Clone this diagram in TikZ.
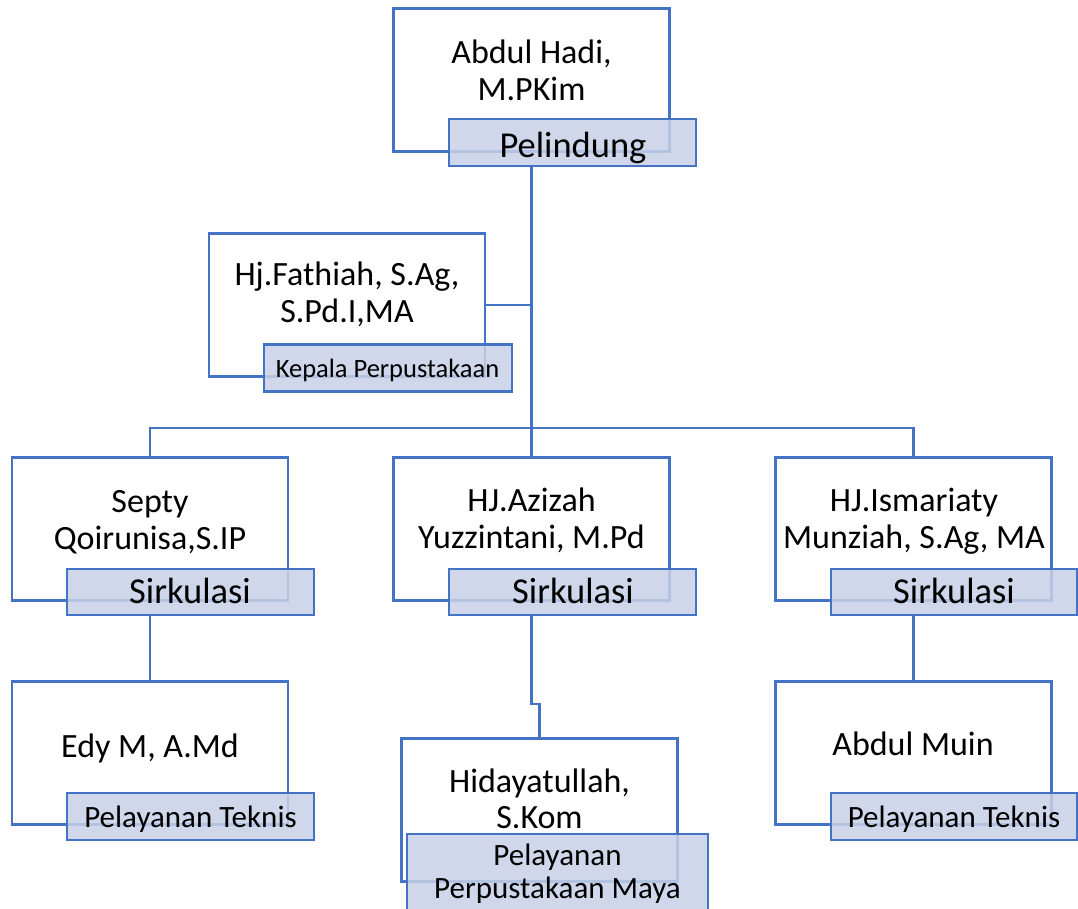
\documentclass[tikz,border=0pt]{standalone}
\usepackage{fontspec}
\setmainfont{Carlito}
\definecolor{ln}{HTML}{4472C4}
\definecolor{lf}{RGB}{200,209,232}
\tikzset{
  conn/.style={draw=ln, line width=2.6pt},
  box/.style={draw=ln, line width=2.6pt, fill=white, inner sep=0pt,
    minimum width=276pt, minimum height=143pt},
  lab/.style={draw=ln, line width=2.6pt, fill=lf, fill opacity=0.85, draw opacity=1,
    inner sep=0pt, minimum width=247pt, minimum height=47pt},
  nametxt/.style={anchor=base, inner sep=0pt, font=\fontsize{34}{37}\selectfont},
  bigtxt/.style={anchor=base, inner sep=0pt, font=\fontsize{36.5}{40}\selectfont},
  midtxt/.style={anchor=base, inner sep=0pt, font=\fontsize{31}{33}\selectfont},
  smalltxt/.style={anchor=base, inner sep=0pt, font=\fontsize{26.5}{30}\selectfont},
}
\begin{document}
\begin{tikzpicture}[x=1pt,y=-1pt]
\clip (0,0) rectangle (1078,908);
\fill[white] (0,0) rectangle (1078,908);

% connectors (drawn first, boxes cover their ends)
\coordinate (bus) at (531.5,428);
\coordinate (k) at (539.5,704);
\coordinate (c0) at (531.5,166);
\coordinate (c1) at (485,305);
\coordinate (c2) at (531.5,305);
\coordinate (c3) at (150,615);
\coordinate (c4) at (913.5,615);
\coordinate (c5) at (531.5,615);

% boxes
\node[box] (b0) at (531.5,80) {};
\node[box] (b1) at (347,305) {};
\node[box] (b2) at (150,529) {};
\node[box] (b3) at (531.5,529) {};
\node[box] (b4) at (913.5,529) {};
\node[box] (b5) at (150,753) {};
\node[box] (b6) at (913.5,753) {};
\node[box] (b7) at (539.5,810) {};

% label boxes
\node[lab] (l0) at (572.5,142.5) {};
\node[lab, minimum width=248pt] (l1) at (388,368) {};
\node[lab, minimum height=46pt] (l2) at (190.5,592) {};
\node[lab, minimum height=46pt] (l3) at (572.5,592) {};
\node[lab, minimum height=46pt, minimum width=246pt] (l4) at (954,592) {};
\node[lab] (l5) at (190.5,816.5) {};
\node[lab, minimum width=246pt] (l6) at (954,816.5) {};
\node[lab, minimum width=301pt, minimum height=82pt] (l7) at (557.5,875) {};

\draw[conn] (l0.south -| b0) -- (bus);
\draw[conn] (b1.east) -- (b1.east -| b0);
\draw[conn] (b2.north) |- (bus) -| (b4.north);
\draw[conn] (bus) -- (b3.north);
\draw[conn] (l2.south -| b2) -- (b5.north);
\draw[conn] (l4.south -| b4) -- (b6.north);
\draw[conn] (l3.south -| b3) |- (k) -- (b7.north);

% texts
\node[nametxt] (t0) at (531.5,63) {\begin{tabular}[t]{@{}c@{}}Abdul Hadi,\\M.PKim\end{tabular}};
\node[nametxt] (t1) at (347,285) {\begin{tabular}[t]{@{}c@{}}Hj.Fathiah, S.Ag,\\S.Pd.I,MA\end{tabular}};
\node[nametxt] (t2) at (150,512) {\begin{tabular}[t]{@{}c@{}}Septy\\Qoirunisa,S.IP\end{tabular}};
\node[nametxt] (t3) at (531.5,511) {\begin{tabular}[t]{@{}c@{}}HJ.Azizah\\Yuzzintani, M.Pd\end{tabular}};
\node[nametxt] (t4) at (914,511) {\begin{tabular}[t]{@{}c@{}}HJ.Ismariaty\\Munziah, S.Ag, MA\end{tabular}};
\node[nametxt] (t5) at (150,757) {Edy M, A.Md};
\node[nametxt] (t6) at (913,755) {Abdul Muin};
\node[nametxt, font=\fontsize{34}{36}\selectfont] (t7) at (539.5,792) {\begin{tabular}[t]{@{}c@{}}Hidayatullah,\\S.Kom\end{tabular}};

\node[bigtxt] (r0) at (573,157) {Pelindung};
\node[smalltxt] (r1) at (387.5,377) {Kepala Perpustakaan};
\node[bigtxt] (r2) at (190,603) {Sirkulasi};
\node[bigtxt] (r3) at (573,603) {Sirkulasi};
\node[bigtxt] (r4) at (954,603) {Sirkulasi};
\node[midtxt] (r5) at (190.5,827) {Pelayanan Teknis};
\node[midtxt] (r6) at (954,827) {Pelayanan Teknis};
\node[midtxt] (r7) at (557.5,865) {\begin{tabular}[t]{@{}c@{}}Pelayanan\\Perpustakaan Maya\end{tabular}};
\end{tikzpicture}
\end{document}
